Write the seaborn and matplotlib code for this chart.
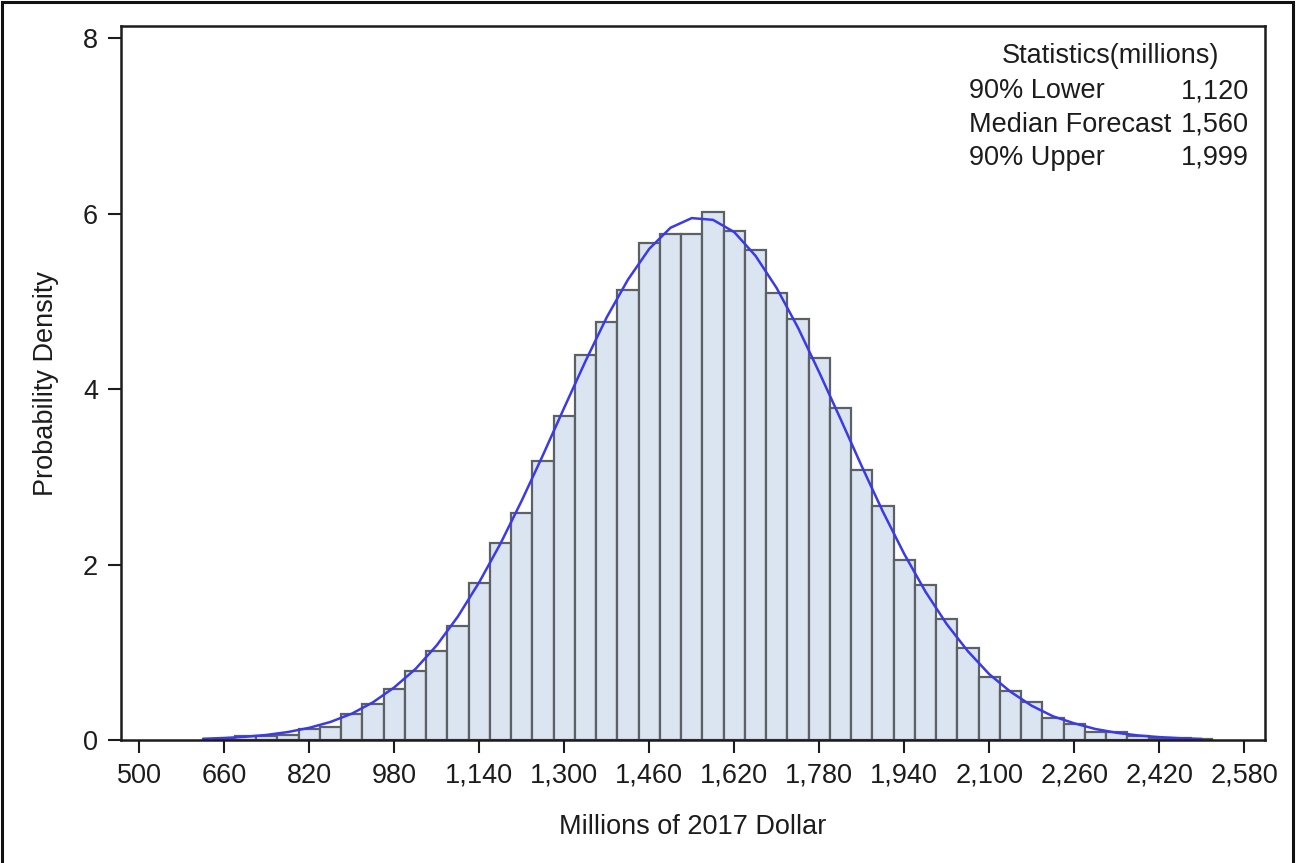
"""
Forecast distribution - histogram with fitted normal curve
"""
import numpy as np
import pandas as pd
import matplotlib
matplotlib.use("Agg")
import matplotlib.pyplot as plt
from matplotlib.patches import Rectangle
from matplotlib.ticker import FuncFormatter
import seaborn as sns


# ── Data ──────────────────────────────────────────────────────────────────────

bin_width = 40
bin_start = np.arange(640, 2520, bin_width)  # left edges, 640 .. 2480

pct = [
    0.01, 0.046, 0.04, 0.06, 0.12, 0.145, 0.30, 0.41, 0.585, 0.79,
    1.02, 1.30, 1.79, 2.25, 2.59, 3.18, 3.69, 4.39, 4.77, 5.13,
    5.67, 5.77, 5.77, 6.02, 5.80, 5.59, 5.10, 4.80, 4.36, 3.79,
    3.08, 2.67, 2.05, 1.77, 1.38, 1.05, 0.72, 0.56, 0.43, 0.25,
    0.18, 0.095, 0.09, 0.046, 0.02, 0.02, 0.015,
]

# fitted curve, sampled every 40 units
curve_x = np.arange(620, 2540, 40)
curve_y = [
    0.014, 0.023, 0.037, 0.058, 0.091, 0.139, 0.206, 0.30, 0.43, 0.60,
    0.81, 1.08, 1.41, 1.80, 2.24, 2.73, 3.25, 3.79, 4.32, 4.82,
    5.25, 5.60, 5.84, 5.95, 5.93, 5.79, 5.52, 5.15, 4.70, 4.19,
    3.66, 3.12, 2.60, 2.12, 1.69, 1.32, 1.01, 0.75, 0.55, 0.39,
    0.27, 0.19, 0.125, 0.082, 0.052, 0.033, 0.020, 0.012,
]

x_ticks = np.arange(500, 2581, 160)
y_ticks = [0, 2, 4, 6, 8]

stat_labels = ["90% Lower", "Median Forecast", "90% Upper"]
stat_values = ["1,120", "1,560", "1,999"]

hist_df = pd.DataFrame({"mid": bin_start + bin_width / 2, "pct": pct})
curve_df = pd.DataFrame({"x": curve_x, "y": curve_y})


# ── Style ─────────────────────────────────────────────────────────────────────

sns.set_style("ticks")
plt.rcParams["font.family"] = ["Liberation Sans", "DejaVu Sans"]
FS = 19.5
INK = "#1c1c1c"

W, H = 1296, 863
fig = plt.figure(figsize=(W / 100, H / 100), dpi=100)
ax = fig.add_axes([121 / W, 1 - 740 / H, (1265 - 121) / W, (740 - 26) / H])

edges = [float(e) for e in bin_start] + [float(bin_start[-1] + bin_width)]
sns.histplot(
    data=hist_df, x="mid", weights="pct", bins=edges, stat="count",
    color="#dbe5f1", edgecolor="#5c6166", linewidth=1.6, alpha=1, ax=ax,
)
sns.lineplot(data=curve_df, x="x", y="y", color="#3a3aea", linewidth=1.8, ax=ax)

ax.set_xlim(465.6, 2619)
ax.set_ylim(0, 8.14)
ax.set_xticks(x_ticks)
ax.set_yticks(y_ticks)
ax.xaxis.set_major_formatter(FuncFormatter(lambda v, _: f"{int(v):,}"))
ax.tick_params(labelsize=FS, length=9.5, width=1.5, color=INK, labelcolor=INK, pad=7)

for s in ax.spines.values():
    s.set_visible(True)
    s.set_linewidth(1.8)
    s.set_color(INK)

ax.set_xlabel("Millions of 2017 Dollar", fontsize=FS, color=INK, labelpad=18)
ax.set_ylabel("Probability Density", fontsize=FS, color=INK, labelpad=17)

# ── Statistics box ────────────────────────────────────────────────────────────

fig.text(1110 / W, 1 - 63 / H, "Statistics(millions)", fontsize=FS, color=INK,
         ha="center", va="baseline")
for i, (lab, val) in enumerate(zip(stat_labels, stat_values)):
    yb = 1 - (98.3 + 33.3 * i) / H
    fig.text(969 / W, yb, lab, fontsize=FS, color=INK, ha="left", va="baseline")
    fig.text(1249 / W, yb, val, fontsize=FS, color=INK, ha="right", va="baseline")

# outer frame of the graphic
fig.patches.append(Rectangle((0.0015, -0.05), 0.996, 1.048, transform=fig.transFigure,
                             fill=False, edgecolor="#111111", linewidth=2.2, clip_on=False))

fig.savefig("out.png", dpi=100)
